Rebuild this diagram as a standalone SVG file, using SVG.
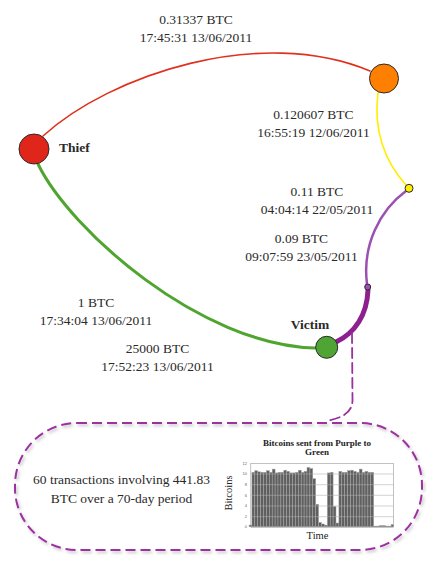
<svg xmlns="http://www.w3.org/2000/svg" width="436" height="567" viewBox="0 0 436 567">
<defs>
<style>
.lbl{font-family:"Liberation Serif","Times New Roman",serif;font-size:13.5px;fill:#2a2a2a;text-anchor:middle}
.name{font-family:"Liberation Serif","Times New Roman",serif;font-size:13.5px;font-weight:bold;fill:#2a2a2a}
.node{stroke:#2a2a2a;stroke-width:1}
.edge{fill:none;stroke-linecap:round}
.tick{font-family:"Liberation Sans",Arial,sans-serif;font-size:4px;fill:#666;text-anchor:end}
.bar{fill:#5f5f5f;stroke:#a8a8a8;stroke-width:0.5}
.grid{stroke:#b0b0b0;stroke-width:0.7;opacity:0.8}
.ct{font-family:"Liberation Serif","Times New Roman",serif;fill:#222;text-anchor:middle}
</style>
<filter id="sh" x="-10%" y="-10%" width="120%" height="130%">
<feDropShadow dx="1.5" dy="2" stdDeviation="1.5" flood-color="#000" flood-opacity="0.25"/>
</filter>
</defs>
<rect width="436" height="567" fill="#fff"/>

<g id="connectors">
<path class="edge" d="M43,136 C110,75 260,25 370,71" stroke="#e0301e" stroke-width="1.6"/>
<path class="edge" d="M378,93 C373,130 385,162 406,185" stroke="#ffee00" stroke-width="1.6"/>
<path class="edge" d="M406,191 C380,210 362,245 367,284" stroke="#9b50b2" stroke-width="2.5"/>
<path class="edge" d="M368,290 C367,315 355,333 336,342" stroke="#8e1f8e" stroke-width="5"/>
<path class="edge" d="M38,164 C70,230 200,345 315,348" stroke="#4fa52f" stroke-width="3"/>
<path class="edge" d="M352,333 L352.5,400 C352.5,412 343,418 326,421" stroke="#9b30a0" stroke-width="1.8" stroke-dasharray="10,5"/>
</g>

<g id="thief">
<circle class="node" cx="34" cy="149" r="15" fill="#e0261a"/>
<text class="name" x="59" y="152">Thief</text>
</g>
<g id="orange">
<circle class="node" cx="384" cy="78.5" r="14.5" fill="#ff8000"/>
</g>
<g id="yellow">
<circle class="node" cx="409" cy="188.3" r="4" fill="#ffee00"/>
</g>
<g id="purple">
<circle class="node" cx="367.7" cy="287" r="3" fill="#9b50b2"/>
</g>
<g id="victim">
<circle class="node" cx="326.7" cy="347.3" r="11" fill="#4fa534"/>
<text class="name" x="310" y="329" text-anchor="middle">Victim</text>
</g>

<g id="edge-labels">
<text class="lbl" x="196" y="24">0.31337 BTC</text>
<text class="lbl" x="196" y="42">17:45:31 13/06/2011</text>
<text class="lbl" x="313.5" y="119">0.120607 BTC</text>
<text class="lbl" x="313.5" y="137">16:55:19 12/06/2011</text>
<text class="lbl" x="317" y="196">0.11 BTC</text>
<text class="lbl" x="317" y="214">04:04:14 22/05/2011</text>
<text class="lbl" x="301.5" y="243">0.09 BTC</text>
<text class="lbl" x="301.5" y="261">09:07:59 23/05/2011</text>
<text class="lbl" x="96" y="307">1 BTC</text>
<text class="lbl" x="96" y="325">17:34:04 13/06/2011</text>
<text class="lbl" x="157.5" y="353">25000 BTC</text>
<text class="lbl" x="157.5" y="371">17:52:23 13/06/2011</text>
</g>

<g id="summary">
<rect x="15" y="423" width="407" height="127" rx="62" ry="62" fill="none" stroke="#9b30a0" stroke-width="2" stroke-dasharray="10,5" filter="url(#sh)"/>
<text class="lbl" x="121.5" y="484">60 transactions involving 441.83</text>
<text class="lbl" x="121.5" y="503">BTC over a 70-day period</text>
</g>

<g id="chart">
<text class="ct" x="317" y="445.5" font-size="9" font-weight="bold">Bitcoins sent from Purple to</text>
<text class="ct" x="317" y="455" font-size="9" font-weight="bold">Green</text>
<rect x="250.8" y="463.3" width="142.5" height="63.7" fill="#fff" stroke="#999" stroke-width="0.6"/>
<g>
<rect class="bar" x="249" y="525.1" width="2.9" height="1.6"/>
<rect class="bar" x="251.9" y="472.3" width="2.9" height="54.4"/>
<rect class="bar" x="254.8" y="470.7" width="2.9" height="56"/>
<rect class="bar" x="257.7" y="471.8" width="2.9" height="54.9"/>
<rect class="bar" x="260.6" y="472.3" width="2.9" height="54.4"/>
<rect class="bar" x="263.5" y="472.3" width="2.9" height="54.4"/>
<rect class="bar" x="266.4" y="470.7" width="2.9" height="56"/>
<rect class="bar" x="269.3" y="472.3" width="2.9" height="54.4"/>
<rect class="bar" x="272.2" y="469.1" width="2.9" height="57.6"/>
<rect class="bar" x="275.1" y="472.9" width="2.9" height="53.8"/>
<rect class="bar" x="278" y="472.3" width="2.9" height="54.4"/>
<rect class="bar" x="280.9" y="472.3" width="2.9" height="54.4"/>
<rect class="bar" x="283.8" y="470.2" width="2.9" height="56.5"/>
<rect class="bar" x="286.7" y="471.3" width="2.9" height="55.4"/>
<rect class="bar" x="289.6" y="472.9" width="2.9" height="53.8"/>
<rect class="bar" x="292.5" y="472.9" width="2.9" height="53.8"/>
<rect class="bar" x="295.4" y="472.3" width="2.9" height="54.4"/>
<rect class="bar" x="298.3" y="470.2" width="2.9" height="56.5"/>
<rect class="bar" x="301.2" y="472.3" width="2.9" height="54.4"/>
<rect class="bar" x="304.1" y="471.3" width="2.9" height="55.4"/>
<rect class="bar" x="307" y="467.5" width="2.9" height="59.2"/>
<rect class="bar" x="309.9" y="468.6" width="2.9" height="58.1"/>
<rect class="bar" x="312.8" y="478.7" width="2.9" height="48"/>
<rect class="bar" x="315.7" y="504.3" width="2.9" height="22.4"/>
<rect class="bar" x="318.6" y="522.4" width="2.9" height="4.3"/>
<rect class="bar" x="321.5" y="524" width="2.9" height="2.7"/>
<rect class="bar" x="324.4" y="525.1" width="2.9" height="1.6"/>
<rect class="bar" x="327.3" y="472.9" width="2.9" height="53.8"/>
<rect class="bar" x="330.2" y="472.3" width="2.9" height="54.4"/>
<rect class="bar" x="333.1" y="506.4" width="2.9" height="20.3"/>
<rect class="bar" x="336" y="523" width="2.9" height="3.7"/>
<rect class="bar" x="338.9" y="471.3" width="2.9" height="55.4"/>
<rect class="bar" x="341.8" y="472.3" width="2.9" height="54.4"/>
<rect class="bar" x="344.7" y="472.3" width="2.9" height="54.4"/>
<rect class="bar" x="347.6" y="470.7" width="2.9" height="56"/>
<rect class="bar" x="350.5" y="470.2" width="2.9" height="56.5"/>
<rect class="bar" x="353.4" y="471.3" width="2.9" height="55.4"/>
<rect class="bar" x="356.3" y="472.3" width="2.9" height="54.4"/>
<rect class="bar" x="359.2" y="469.1" width="2.9" height="57.6"/>
<rect class="bar" x="362.1" y="472.3" width="2.9" height="54.4"/>
<rect class="bar" x="365" y="471.3" width="2.9" height="55.4"/>
<rect class="bar" x="367.9" y="472.3" width="2.9" height="54.4"/>
<rect class="bar" x="370.8" y="472.3" width="2.9" height="54.4"/>
<rect class="bar" x="373.7" y="526.1" width="2.9" height="0.6"/>
<rect class="bar" x="376.6" y="526.1" width="2.9" height="0.6"/>
<rect class="bar" x="379.5" y="525.6" width="2.9" height="1.1"/>
<rect class="bar" x="382.4" y="525.6" width="2.9" height="1.1"/>
<rect class="bar" x="385.3" y="526.1" width="2.9" height="0.6"/>
<rect class="bar" x="388.2" y="526.1" width="2.9" height="0.6"/>
<rect class="bar" x="391.1" y="524.6" width="2.4" height="2.1"/>
</g>
<g>
<line class="grid" x1="250.8" y1="474" x2="393.3" y2="474"/>
<line class="grid" x1="250.8" y1="484.7" x2="393.3" y2="484.7"/>
<line class="grid" x1="250.8" y1="495.3" x2="393.3" y2="495.3"/>
<line class="grid" x1="250.8" y1="506" x2="393.3" y2="506"/>
<line class="grid" x1="250.8" y1="516.7" x2="393.3" y2="516.7"/>
<line x1="250.8" y1="527" x2="393.3" y2="527" stroke="#888" stroke-width="0.6"/>
</g>
<text class="tick" x="247" y="464.6">12</text>
<text class="tick" x="247" y="475.3">10</text>
<text class="tick" x="247" y="486">8</text>
<text class="tick" x="247" y="496.6">6</text>
<text class="tick" x="247" y="507.3">4</text>
<text class="tick" x="247" y="518">2</text>
<text class="tick" x="247" y="528.3">0</text>
<text class="ct" x="0" y="0" transform="translate(231.5,493) rotate(-90)" font-size="10.5">Bitcoins</text>
<text class="ct" x="317.5" y="539.3" font-size="10.5">Time</text>
</g>
</svg>
